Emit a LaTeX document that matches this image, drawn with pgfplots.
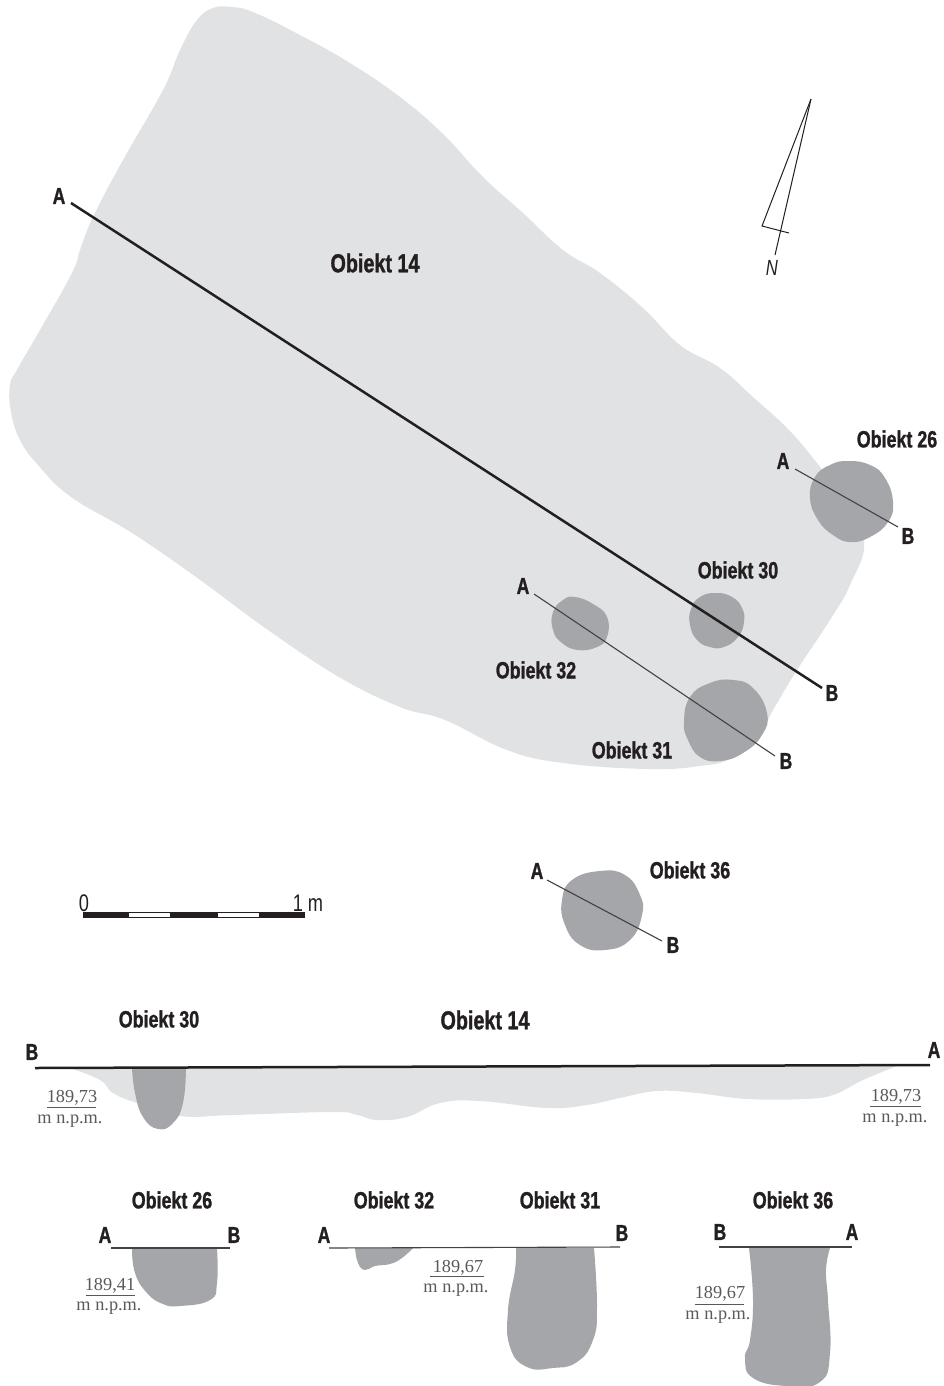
\documentclass[border=0pt]{standalone}
\usepackage{fontspec}
\usepackage{pgfplots}
\pgfplotsset{compat=1.18}
\setmainfont{Liberation Sans}
\newfontfamily\cond[FakeStretch=0.76]{Liberation Sans}
\newfontfamily\condb[FakeStretch=0.76,FakeBold=1.2]{Liberation Sans Bold}
\newfontfamily\serif{Liberation Serif}
\definecolor{light}{HTML}{E1E2E4}
\definecolor{dark}{HTML}{A5A6A9}
\definecolor{ink}{HTML}{231F20}
\definecolor{elev}{HTML}{58595B}
\tikzset{
  obj/.style={font=\condb\fontsize{23.5}{23.5}\selectfont, text=ink, inner sep=0pt},
  big/.style={font=\condb\fontsize{26}{26}\selectfont, text=ink, inner sep=0pt},
  lett/.style={font=\condb\fontsize{23}{23}\selectfont, text=ink, inner sep=0pt},
  elv/.style={font=\serif\fontsize{18.3}{18.3}\selectfont, text=elev, inner sep=0pt, anchor=base},
  scl/.style={font=\cond\fontsize{24}{24}\selectfont, text=ink, inner sep=0pt},
}
\pgfplotsset{blob/.style={smooth, tension=0.8, fill=dark, draw=none}}
\begin{document}
\begin{tikzpicture}
\useasboundingbox (0,0) rectangle (943pt,1386pt);
\begin{axis}[
    width=943pt, height=1386pt, scale only axis,
    xmin=0, xmax=943, ymin=0, ymax=1386,
    y dir=reverse,
    axis lines=none,
    ticks=none,
]
% plan: Obiekt 14
\addplot[smooth cycle, tension=0.7, fill=light, draw=none] coordinates {
    (231,7) (253,12) (300,35) (350,63) (400,97) (443,134) (483,177) (523,213)
    (563,250) (600,273) (643,308) (680,345) (720,368) (753,397) (787,428)
    (813,458) (840,495) (864,540) (850,585) (830,620) (797,670) (773,710)
    (763,727) (733,757) (700,766) (647,769) (563,763) (507,750) (445,720)
    (400,707) (339,677) (268,630) (196,577) (132,533) (71,497) (38,465)
    (20,440) (11,412) (10,385) (18,368) (40,330) (72,273) (80,250) (93,217) (123,160)
    (163,90) (180,50) (197,20) (213,8)
};
% plan: small objects
\addplot[smooth cycle, tension=0.8, fill=dark, draw=none] coordinates {
    (848,461) (870,465) (885,478) (893,502) (888,522) (870,537) (850,542)
    (833,535) (818,520) (810,498) (815,477) (830,465)
};
\addplot[smooth cycle, tension=0.8, fill=dark, draw=none] coordinates {
    (716,593) (732,597) (742,608) (744,622) (738,637) (724,647) (710,647)
    (697,640) (690,625) (691,609) (700,597)
};
\addplot[smooth cycle, tension=0.8, fill=dark, draw=none] coordinates {
    (575,597) (593,604) (607,617) (607,637) (597,647) (578,650) (562,643)
    (553,630) (553,612) (563,600)
};
\addplot[smooth cycle, tension=0.8, fill=dark, draw=none] coordinates {
    (733,680) (753,688) (767,713) (762,735) (743,753) (720,761) (700,757)
    (688,740) (684,722) (690,697) (710,683)
};
\addplot[smooth cycle, tension=0.8, fill=dark, draw=none] coordinates {
    (600,871) (625,875) (640,895) (642,915) (630,940) (605,950) (580,945)
    (565,925) (562,900) (572,880)
};
% plan: section lines
\addplot[ink, line width=2.5pt] coordinates {(71,203) (822,688)};
\addplot[ink!85, line width=1.1pt] coordinates {(795,469) (898,527)};
\addplot[ink!85, line width=1.1pt] coordinates {(534,594) (775,756)};
\addplot[ink!85, line width=1.1pt] coordinates {(547,880) (662,941)};
% north arrow
\addplot[ink, line width=1pt] coordinates {(811,99) (762,226) (789,233)};
\addplot[ink, line width=1pt] coordinates {(811,99) (775,255)};
% scale bar
\addplot[ink, line width=6pt] coordinates {(83,915) (305,915)};
\addplot[white, line width=3.4pt] coordinates {(129,915) (170,915)};
\addplot[white, line width=3.4pt] coordinates {(218,915) (259,915)};
% profile: Obiekt 14
\addplot[smooth, tension=0.7, fill=light, draw=none] coordinates {
    (70,1068) (100,1080) (113,1093) (137,1103) (180,1116) (233,1115) (333,1112)
    (357,1115) (377,1120) (407,1117) (440,1103) (480,1101) (547,1108) (587,1105)
    (620,1098) (657,1091) (697,1093) (747,1099) (803,1099) (833,1095) (863,1080)
    (897,1066)
};
\addplot[blob] coordinates {
    (132,1068) (135,1093) (143,1117) (158,1129) (173,1123) (183,1103) (186,1068)
};
\addplot[ink, line width=2.5pt] coordinates {(35,1068) (930,1065)};
% profiles: small objects
\addplot[blob] coordinates {
    (132,1248) (135,1273) (147,1293) (163,1304) (180,1306) (210,1300) (217,1283) (217,1248)
};
\addplot[blob] coordinates {
    (355,1248) (358,1263) (365,1270) (375,1266) (390,1264) (402,1258) (413,1248)
};
\addplot[blob] coordinates {
    (516,1248) (515,1270) (508,1310) (510,1347) (527,1367) (553,1368) (577,1362)
    (593,1340) (597,1307) (594,1248)
};
\addplot[blob] coordinates {
    (749,1248) (753,1300) (750,1340) (745,1358) (753,1378) (787,1386) (820,1382)
    (830,1353) (828,1300) (826,1270) (830,1248)
};
\addplot[ink!85, line width=1.1pt] coordinates {(111,1248) (230,1248)};
\addplot[ink!85, line width=1.1pt] coordinates {(329,1248) (620,1247)};
\addplot[ink!85, line width=1.1pt] coordinates {(719,1247) (852,1247)};
% elevation rules
\addplot[elev, line width=0.7pt] coordinates {(47,1107) (96,1107)};
\addplot[elev, line width=0.7pt] coordinates {(870,1106.5) (921,1106.5)};
\addplot[elev, line width=0.7pt] coordinates {(86,1295) (135,1295)};
\addplot[elev, line width=0.7pt] coordinates {(430,1276) (484,1276)};
\addplot[elev, line width=0.7pt] coordinates {(695,1304) (744,1304)};

% labels
\node[big] at (axis cs:375,263) {Obiekt 14};
\node[big] at (axis cs:485,1020) {Obiekt 14};
\node[obj] at (axis cs:897,439) {Obiekt 26};
\node[obj] at (axis cs:738,570) {Obiekt 30};
\node[obj] at (axis cs:536,670) {Obiekt 32};
\node[obj] at (axis cs:632,750) {Obiekt 31};
\node[obj] at (axis cs:690,870) {Obiekt 36};
\node[obj] at (axis cs:159,1019) {Obiekt 30};
\node[obj] at (axis cs:172,1200) {Obiekt 26};
\node[obj] at (axis cs:394,1200) {Obiekt 32};
\node[obj] at (axis cs:560,1200) {Obiekt 31};
\node[obj] at (axis cs:793,1200) {Obiekt 36};
\node[lett] at (axis cs:59,196) {A};
\node[lett] at (axis cs:832,693) {B};
\node[lett] at (axis cs:783,461) {A};
\node[lett] at (axis cs:908,536) {B};
\node[lett] at (axis cs:523,586) {A};
\node[lett] at (axis cs:786,761) {B};
\node[lett] at (axis cs:537,871) {A};
\node[lett] at (axis cs:673,945) {B};
\node[lett] at (axis cs:32,1052) {B};
\node[lett] at (axis cs:934,1050) {A};
\node[lett] at (axis cs:105,1235) {A};
\node[lett] at (axis cs:234,1235) {B};
\node[lett] at (axis cs:324,1235) {A};
\node[lett] at (axis cs:622,1233) {B};
\node[lett] at (axis cs:720,1232) {B};
\node[lett] at (axis cs:852,1232) {A};
\node[scl] at (axis cs:84,903) {0};
\node[scl] at (axis cs:308,903) {1 m};
\node[font=\cond\itshape\fontsize{22}{22}\selectfont, text=ink, inner sep=0pt] at (axis cs:772,268) {N};
\node[elv] at (axis cs:72,1102) {189,73};
\node[elv] at (axis cs:70,1123) {m n.p.m.};
\node[elv] at (axis cs:896,1101.5) {189,73};
\node[elv] at (axis cs:895,1122) {m n.p.m.};
\node[elv] at (axis cs:110,1290) {189,41};
\node[elv] at (axis cs:109,1310) {m n.p.m.};
\node[elv] at (axis cs:458,1272) {189,67};
\node[elv] at (axis cs:456,1292) {m n.p.m.};
\node[elv] at (axis cs:720,1298) {189,67};
\node[elv] at (axis cs:718,1319) {m n.p.m.};
\end{axis}
\end{tikzpicture}
\end{document}
